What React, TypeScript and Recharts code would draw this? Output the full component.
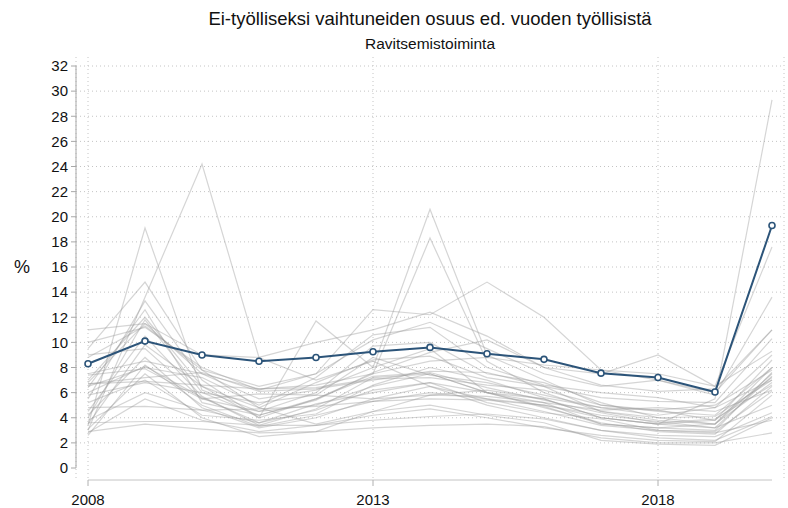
import { LineChart, Line, XAxis, YAxis, CartesianGrid } from "recharts";

const years = [2008, 2009, 2010, 2011, 2012, 2013, 2014, 2015, 2016, 2017, 2018, 2019, 2020];
const xTicks = [2008, 2013, 2018];
const yTicks = [0, 2, 4, 6, 8, 10, 12, 14, 16, 18, 20, 22, 24, 26, 28, 30, 32];
const gridValues = yTicks.filter((v) => v > 0);

// highlighted series
const ravitsemistoiminta = [8.3, 10.1, 9.0, 8.5, 8.8, 9.25, 9.6, 9.1, 8.65, 7.55, 7.2, 6.05, 19.3];

// other areas, drawn in grey behind
const muut: number[][] = [
  [3.0, 13.6, 24.2, 8.8, 7.0, 8.5, 6.5, 5.5, 5.0, 4.0, 3.5, 3.8, 7.2],
  [3.4, 19.1, 6.2, 4.5, 5.0, 6.5, 7.5, 6.0, 5.2, 3.5, 3.2, 3.5, 6.8],
  [6.8, 11.5, 7.5, 5.5, 6.2, 8.0, 20.6, 9.0, 7.0, 5.0, 4.5, 4.2, 8.0],
  [5.5, 13.3, 7.0, 4.0, 5.5, 7.5, 18.3, 8.5, 6.0, 4.5, 3.8, 3.5, 7.5],
  [9.5, 14.8, 7.8, 6.5, 7.5, 12.6, 12.2, 14.8, 12.0, 7.8, 7.0, 6.0, 11.0],
  [7.0, 12.0, 6.5, 4.0, 11.7, 8.0, 9.5, 6.0, 5.5, 4.0, 3.5, 5.5, 29.3],
  [11.0, 11.5, 9.0, 8.8, 10.0, 11.0, 12.4, 10.5, 8.0, 7.5, 9.0, 6.5, 17.6],
  [10.0, 11.2, 8.0, 6.2, 7.5, 10.2, 11.6, 9.5, 7.5, 6.5, 7.0, 5.8, 13.6],
  [7.5, 8.5, 7.5, 6.3, 6.6, 7.5, 8.5, 8.8, 8.2, 7.8, 7.5, 6.5, 9.3],
  [6.7, 7.2, 7.6, 6.1, 6.3, 7.0, 7.7, 7.6, 6.5, 5.6, 5.3, 5.2, 10.3],
  [6.7, 6.9, 6.6, 6.3, 6.4, 7.1, 7.2, 6.6, 6.2, 5.0, 4.6, 3.8, 8.6],
  [4.8, 4.9, 4.6, 4.7, 4.9, 5.3, 5.5, 5.4, 5.0, 4.2, 3.7, 3.2, 7.3],
  [3.6, 3.7, 3.7, 3.4, 3.4, 3.8, 4.1, 4.3, 3.9, 3.0, 2.6, 2.5, 4.4],
  [2.9, 3.5, 3.1, 2.8, 2.9, 3.2, 3.4, 3.5, 3.3, 2.4, 2.0, 2.0, 2.8],
  [2.6, 8.2, 5.0, 3.3, 4.2, 5.3, 6.0, 5.5, 4.5, 3.4, 3.0, 2.9, 6.1],
  [3.1, 7.5, 4.0, 2.5, 2.9, 4.5, 5.0, 4.2, 3.6, 2.2, 1.9, 1.8, 4.0],
  [6.0, 8.1, 5.6, 3.6, 4.6, 6.2, 6.8, 6.0, 4.8, 3.6, 2.9, 2.7, 6.5],
  [4.5, 10.5, 5.7, 3.4, 4.7, 7.2, 7.5, 6.0, 4.9, 3.5, 3.2, 3.0, 7.6],
  [8.8, 11.3, 7.8, 4.8, 6.8, 8.6, 8.9, 7.2, 6.5, 4.5, 4.0, 4.1, 7.0],
  [7.4, 7.9, 5.5, 5.9, 5.8, 5.5, 5.8, 5.7, 5.2, 4.6, 4.8, 4.5, 6.2],
  [5.8, 6.8, 6.0, 5.2, 5.8, 8.8, 7.4, 6.8, 5.8, 4.8, 4.2, 4.8, 7.0],
  [9.0, 9.5, 5.5, 4.5, 6.0, 9.7, 10.0, 7.5, 6.8, 5.2, 4.0, 3.5, 8.0],
  [4.2, 8.8, 4.8, 3.2, 4.0, 5.5, 6.5, 5.0, 4.0, 3.0, 2.4, 2.2, 4.1],
  [3.5, 9.8, 6.5, 4.8, 3.5, 4.5, 5.8, 6.2, 5.5, 4.0, 3.5, 3.2, 5.0],
  [6.5, 8.0, 7.2, 5.0, 7.2, 10.6, 11.2, 8.0, 6.6, 6.0, 5.6, 4.8, 9.0],
  [5.2, 7.0, 4.2, 3.8, 4.3, 6.6, 8.0, 7.0, 5.6, 4.8, 4.6, 5.0, 7.8],
  [4.0, 11.8, 6.0, 4.2, 5.4, 7.6, 9.2, 10.2, 8.0, 6.6, 6.1, 6.3, 11.0],
  [3.8, 6.0, 4.6, 3.6, 5.1, 6.0, 6.8, 5.2, 4.4, 3.9, 3.0, 2.8, 3.8],
  [2.8, 5.5, 3.8, 2.9, 3.4, 4.2, 4.7, 4.0, 3.2, 2.6, 2.2, 2.1, 5.8],
  [6.4, 12.6, 5.2, 4.2, 5.5, 7.3, 7.6, 6.4, 5.4, 4.4, 3.6, 3.9, 6.6],
];

const data = years.map((year, i) => {
  const row: Record<string, number> = { year, main: ravitsemistoiminta[i] };
  muut.forEach((s, j) => {
    row["s" + j] = s[i];
  });
  return row;
});

const font = "'Liberation Sans', Arial, sans-serif";
const blue = "#2c5479";

export default function App() {
  return (
    <div style={{ position: "absolute", left: 0, top: 0, width: 788, height: 508, fontFamily: font, background: "#fff" }}>
      <div style={{ position: "absolute", left: 0, width: 860, top: 8, textAlign: "center", fontSize: 18.5, color: "#111" }}>
        Ei-työlliseksi vaihtuneiden osuus ed. vuoden työllisistä
      </div>
      <div style={{ position: "absolute", left: 0, width: 860, top: 35, textAlign: "center", fontSize: 15.5, color: "#111" }}>
        Ravitsemistoiminta
      </div>
      <div style={{ position: "absolute", left: 14, top: 257, fontSize: 18, color: "#111" }}>%</div>
      <LineChart width={788} height={508} data={data} margin={{ top: 57, right: 4, bottom: 0, left: 0 }}>
        <CartesianGrid
          stroke="#c4c4c4"
          strokeDasharray="1 3"
          horizontalValues={gridValues}
          vertical={true}
        />
        <XAxis
          dataKey="year"
          type="number"
          domain={[2008, 2020]}
          ticks={xTicks}
          padding={{ left: 12, right: 12 }}
          height={28}
          tickSize={6}
          tickMargin={8}
          axisLine={{ stroke: "#c4c4c4", strokeDasharray: "0 12 684 12" }}
          tickLine={{ stroke: "#b0b0b0" }}
          tick={{ fill: "#111", fontSize: 15, fontFamily: font }}
        />
        <YAxis
          type="number"
          domain={[0, 32]}
          ticks={yTicks}
          interval={0}
          padding={{ top: 9, bottom: 12 }}
          width={76}
          tickSize={5}
          tickMargin={3}
          axisLine={{ stroke: "#a8a8a8", strokeDasharray: "0 9 402 12" }}
          tickLine={{ stroke: "#a8a8a8" }}
          tick={{ fill: "#111", fontSize: 15, fontFamily: font }}
        />
        {muut.map((_, j) => (
          <Line
            key={j}
            dataKey={"s" + j}
            type="linear"
            stroke="#9a9a9a"
            strokeOpacity={0.42}
            strokeWidth={1.2}
            dot={false}
            activeDot={false}
            isAnimationActive={false}
          />
        ))}
        <Line
          dataKey="main"
          type="linear"
          stroke={blue}
          strokeWidth={2}
          dot={{ r: 3, fill: "#fff", stroke: blue, strokeWidth: 1.6 }}
          activeDot={false}
          isAnimationActive={false}
        />
      </LineChart>
    </div>
  );
}
